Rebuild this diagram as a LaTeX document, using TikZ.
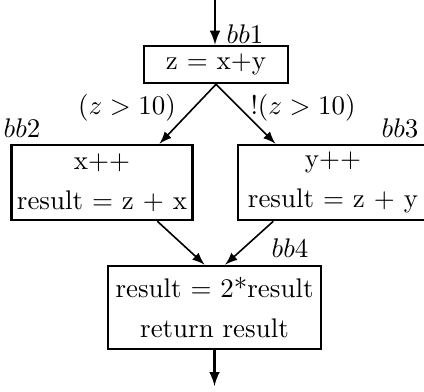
\documentclass[tikz,border=0pt]{standalone}
\usepackage{amsmath}
\usepackage{tikz}
\usetikzlibrary{arrows, positioning, calc}
\tikzstyle{block} = [rectangle, draw=black, line width=1pt, align=center, inner sep=2pt]
\tikzstyle{arrow} = [semithick,->,>=latex]
\tikzstyle{flow}  = [line width=0.8pt,->,>=latex]

\begin{document}
\begin{tikzpicture}[x=0.01304cm, y=-0.01304cm]
  \useasboundingbox (0,0) rectangle (424,391);

  % Basic blocks
  \node (bb1) [block, minimum width=53.4pt, minimum height=13.7pt] at (216,64.5) {z $=$ x+y};
  \node (bb2) [block, minimum width=66.8pt, minimum height=27.8pt] at (102,182.5)
              {x++\\[3pt]result $=$ z $+$ x};
  \node (bb3) [block, minimum width=70.5pt, minimum height=27.8pt] at (333,182.5)
              {y++\\[3pt]result $=$ z $+$ y};
  \node (bb4) [block, minimum width=79pt, minimum height=30.8pt] at (214.5,307.5)
              {result $=$ 2*result\\[3pt]return result};

  % Block names
  \node (lbb1) at (245,34)  {$bb1$};
  \node (lbb2) at (22,128)  {$bb2$};
  \node (lbb3) at (400,128) {$bb3$};
  \node (lbb4) at (290,248) {$bb4$};

  % Entry and exit
  \coordinate (entry) at (215,0);
  \coordinate (exit)  at (214.5,386);
  \draw[flow] (entry) -- (entry |- bb1.north);
  \draw[flow] (bb4.south) -- (exit);

  % Branches
  \draw[arrow] (bb1.south) -- (bb2.34);
  \draw[arrow] (bb1.south) -- (bb3.146);
  \node (ctrue)  at (127,108) {$(z>10)$};
  \node (cfalse) at (303,108) {$!(z>10)$};

  % Join
  \draw[arrow] (bb2.-35)  -- (bb4.103);
  \draw[arrow] (bb3.-147) -- (bb4.76);

\end{tikzpicture}
\end{document}
